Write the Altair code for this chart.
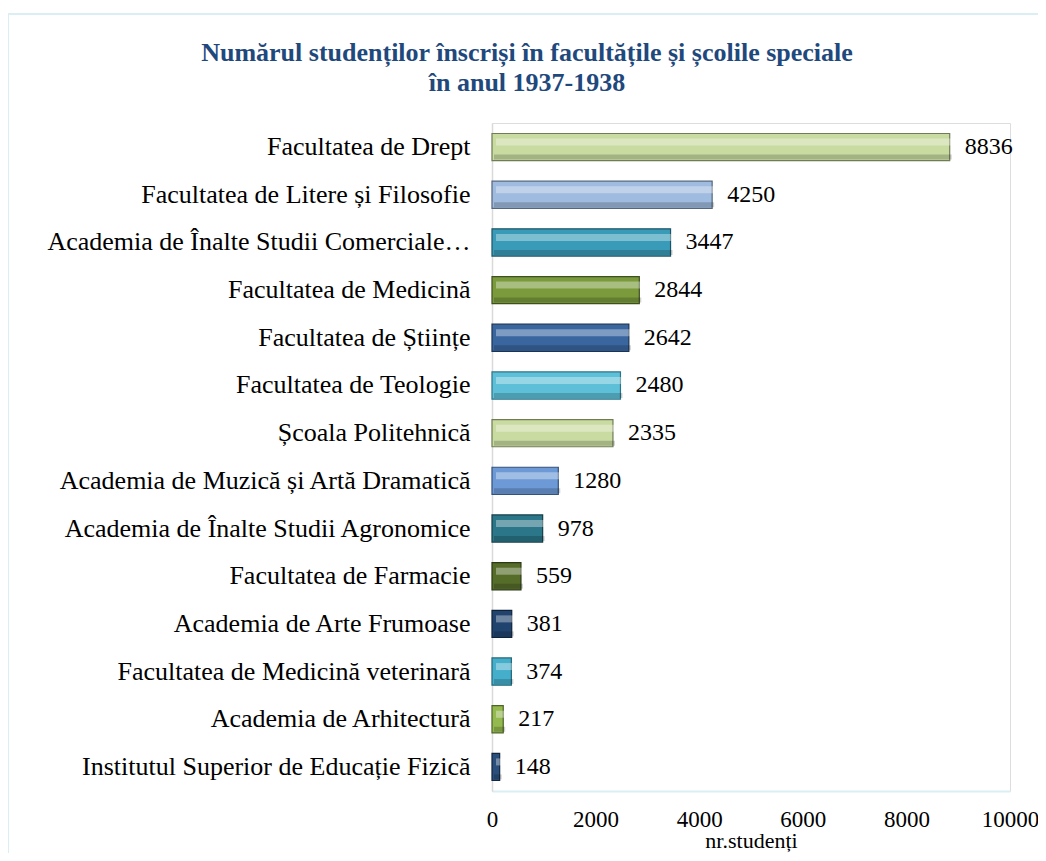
import altair as alt
import pandas as pd

categories = [
    "Facultatea de Drept",
    "Facultatea de Litere și Filosofie",
    "Academia de Înalte Studii Comerciale și Industriale",
    "Facultatea de Medicină",
    "Facultatea de Științe",
    "Facultatea de Teologie",
    "Școala Politehnică",
    "Academia de Muzică și Artă Dramatică",
    "Academia de Înalte Studii Agronomice",
    "Facultatea de Farmacie",
    "Academia de Arte Frumoase",
    "Facultatea de Medicină veterinară",
    "Academia de Arhitectură",
    "Institutul Superior de Educație Fizică",
]
values = [8836, 4250, 3447, 2844, 2642, 2480, 2335, 1280, 978, 559, 381, 374, 217, 148]
x_ticks = [0, 2000, 4000, 6000, 8000, 10000]
title_lines = ["Numărul studenților înscriși în facultățile și școlile speciale",
               "în anul 1937-1938"]
x_title = "nr.studenți"

palette = ["#c9dba0", "#9fbbdf", "#3a9bb8", "#7a9a3c", "#3a66a0", "#5ec0d8",
           "#c9dba0", "#6d9ad6", "#2b7688", "#566d2a", "#21446f", "#45aecb",
           "#94b94f", "#2b4f7c"]
strokes = ["#6f7d55", "#55677f", "#1d5566", "#3f5020", "#1c3454", "#2d7387",
           "#6f7d55", "#34527a", "#153e48", "#2b3a14", "#0f2238", "#23687a",
           "#4c6426", "#13263e"]

df = pd.DataFrame({"cat": categories, "val": values})

FONT = "Liberation Serif"

y_enc = alt.Y("cat:N", sort=categories, title=None,
              scale=alt.Scale(paddingInner=0.43, paddingOuter=0.22),
              axis=alt.Axis(labelFont=FONT, labelFontSize=26, labelColor="#000000",
                            labelPadding=22, labelLimit=428, ticks=False,
                            domainColor="#d9d9d9", domainWidth=1.5))
x_enc = alt.X("val:Q", title=x_title,
              scale=alt.Scale(domain=[0, 10000]),
              axis=alt.Axis(values=x_ticks, format="d", grid=False, labelFlush=False,
                            ticks=False, labelFont=FONT, labelFontSize=23,
                            labelColor="#000000", labelPadding=17,
                            titleFont=FONT, titleFontSize=22, titleFontWeight="normal",
                            titleColor="#000000", titlePadding=-1,
                            domainColor="#dbeef4", domainWidth=2))

base = alt.Chart(df)

bars = base.mark_bar(strokeWidth=1.2).encode(
    y=y_enc, x=x_enc,
    color=alt.Color("cat:N", scale=alt.Scale(domain=categories, range=palette), legend=None),
    stroke=alt.Stroke("cat:N", scale=alt.Scale(domain=categories, range=strokes), legend=None),
)

highlight = base.mark_bar(color="white", opacity=0.35, xOffset=4, x2Offset=-5,
                          height=7, yOffset=-5).encode(
    y=alt.Y("cat:N", sort=categories), x="val:Q"
)

shade = base.mark_bar(color="black", opacity=0.18, xOffset=2, x2Offset=-2,
                      height=5, yOffset=10).encode(
    y=alt.Y("cat:N", sort=categories), x="val:Q"
)

labels = base.mark_text(align="left", baseline="middle", dx=15, font=FONT,
                        fontSize=24, color="#000000").encode(
    y=alt.Y("cat:N", sort=categories), x="val:Q", text=alt.Text("val:Q", format="d")
)

one = pd.DataFrame({"k": [0]})

frame = alt.Chart(one).mark_rect(
    fill=None, stroke="#dbeef4", strokeWidth=2
).encode(x=alt.value(-484), x2=alt.value(700), y=alt.value(-109), y2=alt.value(800))

title = alt.Chart(one).mark_text(
    text=title_lines, font=FONT, fontSize=26, fontWeight="bold", color="#1f497d",
    align="center", baseline="alphabetic", lineHeight=30,
).encode(x=alt.value(35), y=alt.value(-62))

chart = alt.layer(frame, title, bars, highlight, shade, labels).properties(
    width=518, height=668,
    autosize=alt.AutoSizeParams(type="none"),
    padding={"left": 484, "top": 115, "right": 28, "bottom": 62},
).configure_view(stroke=None).configure(background="white")

chart.save("out.html", embed_options={"renderer": "svg", "actions": False})
